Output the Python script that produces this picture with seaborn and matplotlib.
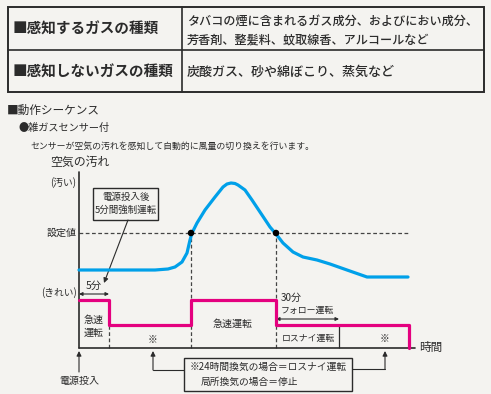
import matplotlib
matplotlib.use('Agg')
import matplotlib.pyplot as plt
import seaborn as sns
import pandas as pd
from matplotlib.patches import Rectangle

# 空気の汚れ (blue curve) : time (arbitrary units) / level
time_air = [0, 76, 89, 96, 103, 108, 111, 113, 118, 126, 136, 144, 148, 152, 156, 159,
            166, 173, 183, 191, 197, 204, 214, 224, 238, 251, 268, 288, 329]
level_air = [78, 78, 79, 81, 86, 95, 108, 115, 125, 138, 151, 161, 164, 165, 164.5, 163,
             158, 148, 133, 121, 114, 105, 96, 91, 88, 84, 78, 71, 71]

# 運転モード (pink step line)
time_mode = [0, 30, 30, 112, 112, 197, 197, 330, 330]
level_mode = [48, 48, 23, 23, 48, 48, 23, 23, 0]

setpoint = 115
cross_times = [112, 197]
t_force_end = 30
t_follow_end = 260
t_axis_end = 336

table_rows = [
    ('■感知するガスの種類', ['タバコの煙に含まれるガス成分、およびにおい成分、',
                         '芳香剤、整髪料、蚊取線香、アルコールなど']),
    ('■感知しないガスの種類', ['炭酸ガス、砂や綿ぼこり、蒸気など']),
]

BG = '#f4f3f0'
INK = '#2b2b2b'
BLUE = '#00a0e9'
PINK = '#e4007f'

sns.set_theme(style='white')
plt.rcParams['font.family'] = ['Noto Sans CJK JP', 'DejaVu Sans']

fig = plt.figure(figsize=(4.91, 3.94), dpi=100)
fig.patch.set_facecolor(BG)
ax = fig.add_axes([0, 0, 1, 1])
ax.set_facecolor(BG)
ax.set_xlim(-79, 412)
ax.set_ylim(-46, 348)
ax.axis('off')


def P(px, py):
    # pixel position -> data coords of this axes
    return (px - 79, 348 - py)


def txt(px, py, s, size, **kw):
    kw.setdefault('va', 'center')
    kw.setdefault('ha', 'left')
    kw.setdefault('color', INK)
    ax.text(*P(px, py), s, fontsize=size, **kw)


# ---- table ----
x0, y0 = P(8, 92)
ax.add_patch(Rectangle((x0, y0), 476, 85, fill=False, ec=INK, lw=1.4))
ax.plot(*zip(P(8, 50), P(484, 50)), color=INK, lw=1.2)
ax.plot(*zip(P(182, 7), P(182, 92)), color=INK, lw=1.2)
txt(13, 29, table_rows[0][0], 10.5, fontweight='bold')
txt(187, 21, table_rows[0][1][0], 8.7, fontweight='medium')
txt(187, 40, table_rows[0][1][1], 8.7, fontweight='medium')
txt(13, 72, table_rows[1][0], 10.5, fontweight='bold')
txt(187, 72, table_rows[1][1][0], 9.4, fontweight='medium')

# ---- headings ----
txt(7, 110, '■動作シーケンス', 8.4)
txt(19, 128, '●雑ガスセンサー付', 7.3)
txt(30, 146, 'センサーが空気の汚れを感知して自動的に風量の切り換えを行います。', 6.4)
txt(50, 162, '空気の汚れ', 8.6)
txt(76, 183, '(汚い)', 7, ha='right')
txt(77, 233, '設定値', 7.2, ha='right')
txt(77, 293, '(きれい)', 7, ha='right')

# ---- axes lines ----
ax.plot([0, 0], [0, 176], color=INK, lw=1.2, zorder=3)
ax.plot([0, t_axis_end], [0, 0], color=INK, lw=1.2, zorder=3)
txt(419, 348, '時間', 8.4)

# guides
dash = dict(color='#444444', lw=0.9, linestyles=(0, (3, 2)), zorder=1)
ax.hlines(setpoint, 0, 331, **dash)
ax.vlines(t_force_end, 0, 48, **dash)
ax.vlines(cross_times, 0, setpoint, **dash)
ax.vlines(t_follow_end, 0, 23, color=INK, lw=0.9)

# ---- curves ----
df_air = pd.DataFrame({'t': time_air, 'level': level_air})
df_mode = pd.DataFrame({'t': time_mode, 'level': level_mode})
sns.lineplot(data=df_air, x='t', y='level', color=BLUE, lw=2.3, ax=ax,
             estimator=None, sort=False, zorder=4)
sns.lineplot(data=df_mode, x='t', y='level', color=PINK, lw=2.3, ax=ax,
             estimator=None, sort=False, zorder=4)
sns.scatterplot(x=cross_times, y=[setpoint] * len(cross_times), color='black',
                s=22, ax=ax, zorder=5, edgecolor='none')
ax.set_xlim(-79, 412)
ax.set_ylim(-46, 348)
ax.axis('off')

# ---- labels in chart ----
arr2 = dict(arrowstyle='<|-|>', color=INK, lw=0.8, mutation_scale=5,
            shrinkA=0, shrinkB=0)
ax.annotate('', xy=(0, 54), xytext=(t_force_end, 54), arrowprops=arr2)
txt(94, 286, '5分', 7.4, ha='center')
txt(94, 326, '急速\n運転', 7.2, ha='center', linespacing=1.35)
txt(153, 340, '※', 7, ha='center')
txt(233, 324, '急速運転', 7.2, ha='center')
txt(281, 298, '30分', 7.2)
txt(281, 310, 'フォロー運転', 6.4)
ax.annotate('', xy=(cross_times[1], 29), xytext=(t_follow_end, 29), arrowprops=arr2)
txt(308, 338, 'ロスナイ運転', 6.4, ha='center')
txt(385, 339, '※', 7, ha='center')

# note box (power on)
bx, by = P(93, 220)
ax.add_patch(Rectangle((bx, by), 65, 32, fill=True, fc=BG, ec=INK, lw=1.0, zorder=3))
txt(126, 204, '電源投入後\n5分間強制運転', 6.8, ha='center', linespacing=1.45, zorder=4)
arr1 = dict(arrowstyle='-|>', color=INK, lw=0.8, mutation_scale=7, shrinkA=0, shrinkB=0)
ax.annotate('', xy=P(104, 283), xytext=P(128, 220), arrowprops=arr1)

# power on arrow
ax.annotate('', xy=P(79, 351), xytext=P(79, 372), arrowprops=arr1)
txt(79, 381, '電源投入', 7.2, ha='center')

# ※ note box
bx, by = P(184, 391)
ax.add_patch(Rectangle((bx, by), 168, 33, fill=True, fc=BG, ec=INK, lw=1.0, zorder=3))
txt(190, 367, '※24時間換気の場合＝ロスナイ運転', 7.0)
txt(201, 382, '局所換気の場合＝停止', 7.0)
ax.plot(*zip(P(184, 370), P(153, 370)), color=INK, lw=0.8)
ax.annotate('', xy=P(153, 351), xytext=P(153, 370), arrowprops=arr1)
ax.plot(*zip(P(352, 369), P(385, 369)), color=INK, lw=0.8)
ax.annotate('', xy=P(385, 351), xytext=P(385, 369), arrowprops=arr1)

fig.savefig('out.png', dpi=100, facecolor=BG)
